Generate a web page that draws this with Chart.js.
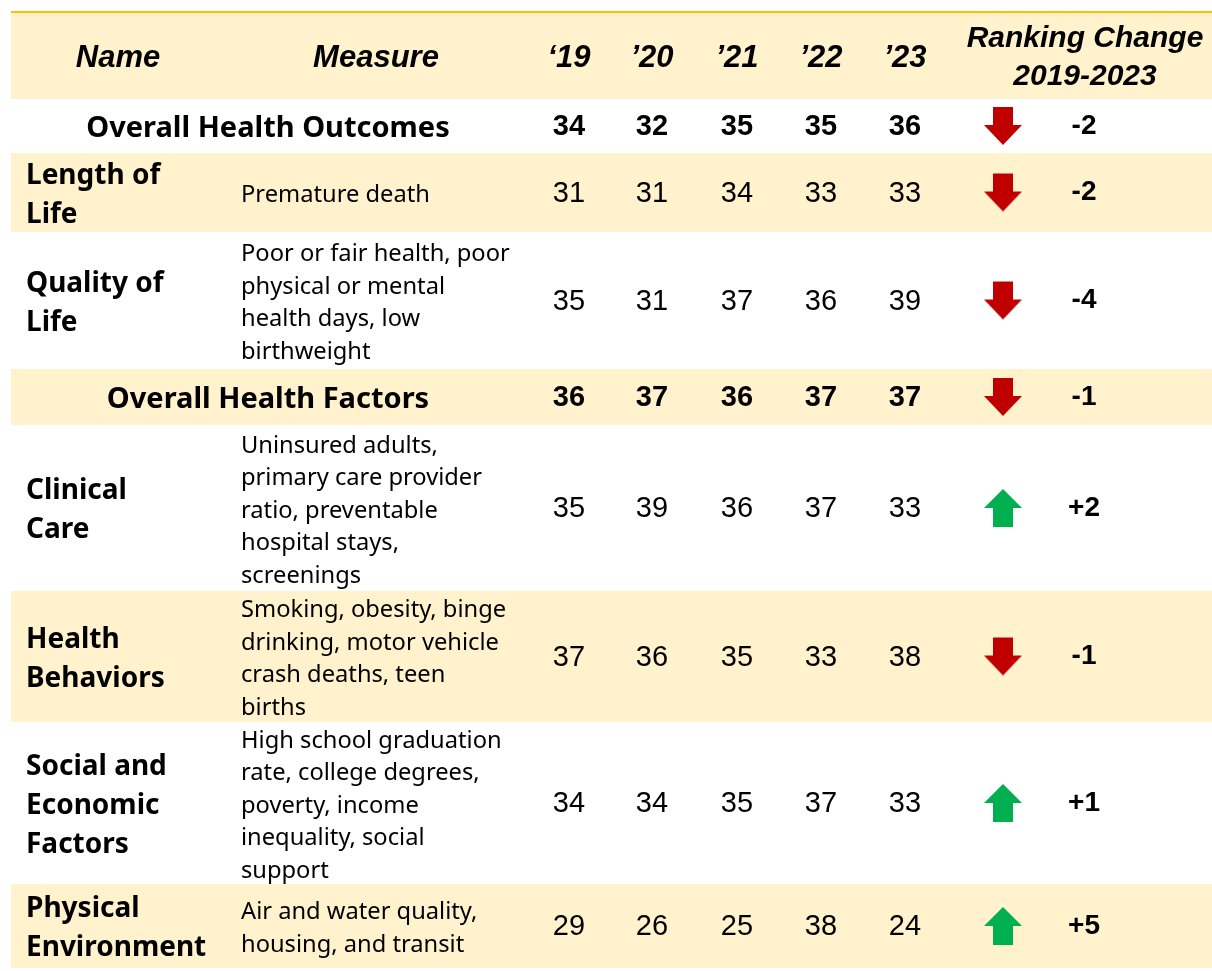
<!DOCTYPE html>
<html>
<head>
<meta charset="utf-8">
<script src="https://cdn.jsdelivr.net/npm/chart.js@4.4.1/dist/chart.umd.min.js"></script>
<style>
  body { margin: 0; background: #fff; }
  canvas { display: block; }
</style>
</head>
<body>
<canvas id="table" width="1212" height="971"></canvas>
<script>
// Data
const names = ['Overall Health Outcomes', 'Length of\nLife', 'Quality of\nLife', 'Overall Health Factors',
  'Clinical\nCare', 'Health\nBehaviors', 'Social and\nEconomic\nFactors', 'Physical\nEnvironment'];
const measures = ['', 'Premature death',
  'Poor or fair health, poor\nphysical or mental\nhealth days, low\nbirthweight', '',
  'Uninsured adults,\nprimary care provider\nratio, preventable\nhospital stays,\nscreenings',
  'Smoking, obesity, binge\ndrinking, motor vehicle\ncrash deaths, teen\nbirths',
  'High school graduation\nrate, college degrees,\npoverty, income\ninequality, social\nsupport',
  'Air and water quality,\nhousing, and transit'];
const years = ['‘19', '’20', '’21', '’22', '’23'];
const rank2019 = [34, 31, 35, 36, 35, 37, 34, 29];
const rank2020 = [32, 31, 31, 37, 39, 36, 34, 26];
const rank2021 = [35, 34, 37, 36, 36, 35, 35, 25];
const rank2022 = [35, 33, 36, 37, 37, 33, 37, 38];
const rank2023 = [36, 33, 39, 37, 33, 38, 33, 24];
const rankChange = [-2, -2, -4, -1, 2, -1, 1, 5];
const summaryRows = [0, 3];

// Layout (table units)
const rowEdges = [12, 99, 153, 232, 369, 425, 591, 722, 884, 968];
const yearX = [569, 652, 737, 821, 905];
const arrowX = 1003, changeX = 1084;
const nameX = 26, measureX = 241;
const beige = '#FFF2CC', gold = '#FFC000';

const rankCols = [rank2019, rank2020, rank2021, rank2022, rank2023];
const rowMid = i => (rowEdges[i + 1] + rowEdges[i + 2]) / 2;

// arrow icons
function makeArrow(up) {
  const c = document.createElement('canvas');
  c.width = 40; c.height = 40;
  const g = c.getContext('2d');
  g.fillStyle = up ? '#00B050' : '#C00000';
  g.beginPath();
  if (up) {
    g.moveTo(20, 1); g.lineTo(39, 20); g.lineTo(30, 20); g.lineTo(30, 39);
    g.lineTo(10, 39); g.lineTo(10, 20); g.lineTo(1, 20);
  } else {
    g.moveTo(10, 1); g.lineTo(30, 1); g.lineTo(30, 19); g.lineTo(39, 19);
    g.lineTo(20, 39); g.lineTo(1, 19); g.lineTo(10, 19);
  }
  g.closePath();
  g.fill();
  return c;
}
const upArrow = makeArrow(true), downArrow = makeArrow(false);

const tablePlugin = {
  id: 'tablePlugin',
  beforeDatasetsDraw(chart) {
    const { ctx, scales: { x, y } } = chart;
    ctx.save();
    // header + striped rows
    const stripes = [0, 2, 4, 6, 8];
    const left = x.getPixelForValue(11), right = x.getPixelForValue(1212);
    stripes.forEach(r => {
      const top = y.getPixelForValue(rowEdges[r]);
      const bot = y.getPixelForValue(rowEdges[r + 1]);
      ctx.fillStyle = beige;
      ctx.fillRect(left, top, right - left, bot - top);
    });
    ctx.fillStyle = gold;
    ctx.fillRect(left, y.getPixelForValue(rowEdges[0]) - 1, right - left, 2);
    ctx.restore();
  },
  afterDatasetsDraw(chart) {
    const { ctx, scales: { x, y } } = chart;
    ctx.save();
    ctx.fillStyle = '#000';
    ctx.textBaseline = 'middle';

    // header
    const hMid = y.getPixelForValue(58);
    ctx.font = 'italic bold 31px "Liberation Sans", Arial';
    ctx.textAlign = 'center';
    ctx.fillText('Name', x.getPixelForValue(118), hMid);
    ctx.fillText('Measure', x.getPixelForValue(376), hMid);
    years.forEach((yr, j) => ctx.fillText(yr, x.getPixelForValue(yearX[j]), hMid));
    ctx.font = 'italic bold 30px "Liberation Sans", Arial';
    ctx.fillText('Ranking Change', x.getPixelForValue(1085), y.getPixelForValue(39));
    ctx.fillText('2019-2023', x.getPixelForValue(1085), y.getPixelForValue(77));

    const nudge = 3; // Noto Sans sits high with middle baseline
    names.forEach((nm, i) => {
      const mid = y.getPixelForValue(rowMid(i));
      const summary = summaryRows.includes(i);
      if (summary) {
        ctx.font = 'bold 29px "Noto Sans"';
        ctx.textAlign = 'center';
        ctx.fillText(nm, x.getPixelForValue(268), mid + nudge);
      } else {
        ctx.font = 'bold 28px "Noto Sans"';
        ctx.textAlign = 'left';
        const lines = nm.split('\n');
        lines.forEach((ln, k) => {
          ctx.fillText(ln, x.getPixelForValue(nameX), mid + nudge + (k - (lines.length - 1) / 2) * 39);
        });
        ctx.font = '23.7px "Noto Sans"';
        const ml = measures[i].split('\n');
        ml.forEach((ln, k) => {
          ctx.fillText(ln, x.getPixelForValue(measureX), mid + nudge + (k - (ml.length - 1) / 2) * 32.5);
        });
      }
      ctx.textAlign = 'center';
      ctx.font = (summary ? 'bold ' : '') + '29px "Liberation Sans", Arial';
      rankCols.forEach((col, j) => ctx.fillText(col[i], x.getPixelForValue(yearX[j]), mid + 1));
      ctx.font = 'bold 28px "Liberation Sans", Arial';
      const ch = rankChange[i];
      ctx.fillText((ch > 0 ? '+' : '') + ch, x.getPixelForValue(changeX), mid);
    });
    ctx.restore();
  }
};

new Chart(document.getElementById('table'), {
  type: 'scatter',
  data: {
    datasets: [{
      data: rankChange.map((c, i) => ({ x: arrowX, y: rowMid(i) })),
      pointStyle: rankChange.map(c => c > 0 ? upArrow : downArrow),
      pointRadius: 20
    }]
  },
  options: {
    responsive: false,
    animation: false,
    devicePixelRatio: 1,
    layout: { padding: 0, autoPadding: false },
    plugins: { legend: { display: false }, tooltip: { enabled: false } },
    scales: {
      x: { type: 'linear', min: 0, max: 1212, display: false },
      y: { type: 'linear', min: 0, max: 971, reverse: true, display: false }
    }
  },
  plugins: [tablePlugin]
});
</script>
</body>
</html>
